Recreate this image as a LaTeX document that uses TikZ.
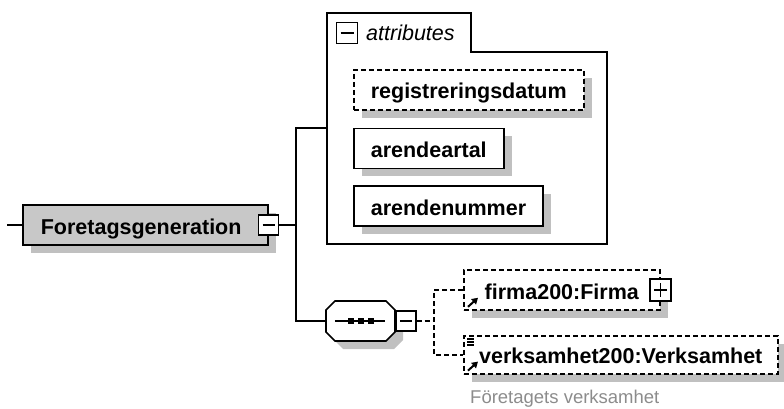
\documentclass[tikz,border=0pt]{standalone}
\usepackage{fontspec}
\setmainfont{Liberation Sans}
\usetikzlibrary{positioning,arrows.meta,shadows}

\definecolor{boxgray}{RGB}{200,200,200}
\definecolor{shadegray}{RGB}{192,192,192}
\definecolor{docgray}{RGB}{140,140,140}

\tikzset{
    elem/.style={draw, fill=white, line width=1.6pt,
        font=\fontsize{21.5}{24}\selectfont\bfseries,
        minimum height=40pt, inner xsep=17pt, inner ysep=0pt,
        text height=18pt, text depth=0pt,
        drop shadow={shadow xshift=8pt, shadow yshift=-8pt, fill=shadegray, opacity=1}},
    optelem/.style={elem, dash pattern=on 5pt off 3pt},
    toggle/.style={draw, fill=white, line width=1.4pt, minimum size=20pt, inner sep=0pt},
    minus/.style={toggle, path picture={
        \draw[line width=1.4pt] ([xshift=4pt]path picture bounding box.west)
            -- ([xshift=-4pt]path picture bounding box.east);}},
    plus/.style={toggle, path picture={
        \draw[line width=1.4pt] ([xshift=4pt]path picture bounding box.west)
            -- ([xshift=-4pt]path picture bounding box.east);
        \draw[line width=1.4pt] ([yshift=-4pt]path picture bounding box.north)
            -- ([yshift=4pt]path picture bounding box.south);}},
    link/.style={line width=1.6pt},
    optlink/.style={link, dash pattern=on 5pt off 3pt},
    refarrow/.style={-{Triangle[length=6pt,width=7pt]}, line width=2pt}
}

\begin{document}
\begin{tikzpicture}[x=1pt, y=-1pt]
    \useasboundingbox (0,0) rectangle (784,409);

    % root element
    \node[elem, fill=boxgray, text width=209pt, align=left, inner xsep=18pt, anchor=west]
        (root) at (22,225) {Foretagsgeneration};
    \node[minus] (rootmin) at (root.east) {};

    % attributes group
    \draw[link] (327,13) -- (471,13) -- (471,52) -- (607,52) -- (607,244) -- (327,244) -- cycle;
    \node[minus, minimum size=21pt] (attrmin) at (347,33) {};
    \node[anchor=base west, inner sep=0pt, font=\fontsize{21.5}{24}\selectfont\itshape]
        (attrlbl) at (366,41) {attributes};

    \node[optelem, anchor=north west] (regdat) at (353,69) {registreringsdatum};
    \node[elem, below=17pt of regdat.south west, anchor=north west] (artal) {arendeartal};
    \node[elem, below=16pt of artal.south west, anchor=north west] (nummer) {arendenummer};

    % sequence (octagon)
    \node[minimum width=69pt, minimum height=40pt, inner sep=0pt] (seq) at (360.5,321) {};
    \foreach \s/\c/\d in {8/shadegray/none, 0/white/black}
        \filldraw[link, fill=\c, draw=\d] ([shift={(\s,\s)}]seq.center) ++(-34.5,-11)
            -- ++(0,22) -- ++(9,9) -- ++(51,0) -- ++(9,-9)
            -- ++(0,-22) -- ++(-9,-9) -- ++(-51,0) -- cycle;
    \node[minus, right=0pt of seq] (seqmin) {};
    \draw[link] ([xshift=9pt]seq.west) -- ([xshift=-10pt]seq.east);
    \foreach \dx in {-10,0,10}
        \fill ([xshift=\dx pt]seq.center) ++(-3,-3) rectangle ++(6,6);

    % children
    \node[optelem, minimum width=196pt, inner xsep=0pt, anchor=west]
        (firma) at (463,290) {firma200:Firma};
    \node[plus, minimum width=21pt, minimum height=22pt] (firmaplus) at (firma.east) {};
    \node[optelem, minimum width=314pt, minimum height=38pt, inner xsep=0pt, anchor=north west]
        (verk) at (463,335) {verksamhet200:Verksamhet};
    \node[anchor=base west, inner sep=0pt, text=docgray, font=\fontsize{18.5}{20}\selectfont]
        (verkdoc) at (470,403) {Företagets verksamhet};

    % icons
    \draw[refarrow] ([shift={(5,-4)}]firma.south west) -- ++(10,-9);
    \draw[refarrow] ([shift={(5,-4)}]verk.south west) -- ++(10,-9);
    \foreach \dy in {4,7,10}
        \draw[line width=1.2pt] ([shift={(4,\dy)}]verk.north west) -- ++(7,0);

    % connectors
    \coordinate (stub) at (7,225);
    \coordinate (fork) at (296,225);
    \coordinate (attrin) at (327,128);
    \coordinate (choice) at (434,321);
    \draw[link] (stub) -- (root.west);
    \draw[link] (rootmin.east) -- (fork);
    \draw[link] (attrin) -| (fork) |- (seq.west);
    \draw[optlink] (seqmin.east) -- (choice);
    \draw[optlink] (firma.west) -| (choice) |- (verk.west);
\end{tikzpicture}
\end{document}
